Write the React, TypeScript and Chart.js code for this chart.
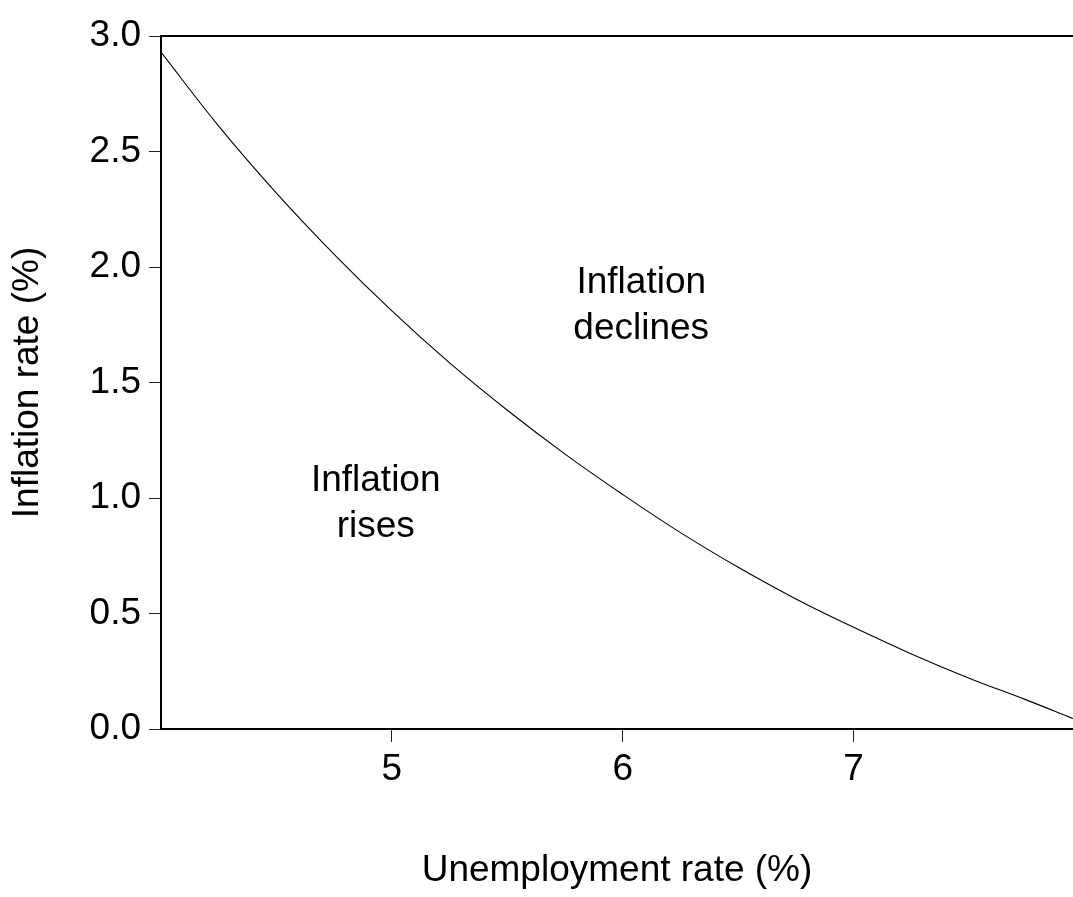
import React, { useEffect, useRef } from "react";
import { Chart, registerables } from "chart.js";

Chart.register(...registerables);

// Curve values (unemployment %, inflation %)
const unemployment = [4.0, 4.25, 4.5, 4.75, 5.0, 5.25, 5.5, 5.75, 6.0, 6.25, 6.5, 6.75, 7.0, 7.25, 7.5, 7.75, 7.95];
const inflation = [2.93, 2.61, 2.32, 2.055, 1.81, 1.585, 1.38, 1.19, 1.015, 0.85, 0.7, 0.563, 0.44, 0.325, 0.22, 0.125, 0.045];

const xTickValues = [5, 6, 7];
const yTickValues = [0, 0.5, 1.0, 1.5, 2.0, 2.5, 3.0];

const xTitle = "Unemployment rate (%)";
const yTitle = "Inflation rate (%)";

// Region annotations (text lines, anchor in data units: centre x, baseline of first line)
const regionLines = [
  ["Inflation", "declines"],
  ["Inflation", "rises"],
];
const regionX = [6.08, 4.93];
const regionY = [1.887, 1.03];

const FONT = '"Liberation Sans", Arial, Helvetica, sans-serif';
const W = 1073;
const H = 897;

const overlayPlugin = {
  id: "overlay",
  afterDraw(chart: any) {
    const { ctx, chartArea, scales } = chart;
    ctx.save();
    ctx.strokeStyle = "#000";
    ctx.lineWidth = 2;
    ctx.beginPath();
    ctx.moveTo(chartArea.left - 1, chartArea.top);
    ctx.lineTo(chartArea.right, chartArea.top);
    ctx.stroke();

    ctx.font = `37px ${FONT}`;
    ctx.fillStyle = "#000";
    ctx.textAlign = "center";
    ctx.textBaseline = "alphabetic";
    regionLines.forEach((lines, i) => {
      const px = scales.x.getPixelForValue(regionX[i]);
      const py = scales.y.getPixelForValue(regionY[i]);
      lines.forEach((t, j) => ctx.fillText(t, px, py + j * 46));
    });
    ctx.restore();
  },
};

export default function App() {
  const ref = useRef<HTMLCanvasElement | null>(null);

  useEffect(() => {
    if (!ref.current) return;
    const chart = new Chart(ref.current, {
      type: "line",
      data: {
        datasets: [
          {
            data: unemployment.map((u, i) => ({ x: u, y: inflation[i] })),
            borderColor: "#000",
            borderWidth: 1.1,
            pointRadius: 0,
            fill: false,
            tension: 0.4,
          },
        ],
      },
      options: {
        animation: false,
        responsive: false,
        maintainAspectRatio: false,
        layout: { padding: { top: 36, right: 0, left: 0, bottom: 0 } },
        plugins: {
          legend: { display: false },
          tooltip: { enabled: false },
        },
        scales: {
          x: {
            type: "linear",
            min: 4.0,
            max: 7.95,
            afterBuildTicks: (scale: any) => {
              scale.ticks = xTickValues.map((v) => ({ value: v }));
            },
            afterFit: (scale: any) => {
              scale.height = 168;
            },
            ticks: {
              color: "#000",
              font: { family: FONT, size: 37 },
              padding: 6,
              maxRotation: 0,
              callback: (v: any) => String(v),
            },
            grid: {
              display: true,
              drawOnChartArea: false,
              drawTicks: true,
              tickLength: 13,
              color: "#222",
              lineWidth: 1,
            },
            border: { display: true, color: "#000", width: 2 },
            title: {
              display: true,
              text: xTitle,
              color: "#000",
              font: { family: FONT, size: 37, lineHeight: 1.2 },
              padding: { top: 0, bottom: 4 },
            },
          },
          y: {
            type: "linear",
            min: 0,
            max: 3,
            afterBuildTicks: (scale: any) => {
              scale.ticks = yTickValues.map((v) => ({ value: v }));
            },
            afterFit: (scale: any) => {
              scale.width = 161;
            },
            ticks: {
              color: "#000",
              font: { family: FONT, size: 37 },
              padding: 8,
              callback: (v: any) => Number(v).toFixed(1),
            },
            grid: {
              display: true,
              drawOnChartArea: false,
              drawTicks: true,
              tickLength: 12,
              color: "#222",
              lineWidth: 1,
            },
            border: { display: true, color: "#000", width: 2 },
            title: {
              display: true,
              text: yTitle,
              color: "#000",
              font: { family: FONT, size: 37, lineHeight: 1.2 },
              padding: { top: 6, bottom: 0 },
            },
          },
        },
      },
      plugins: [overlayPlugin],
    });
    return () => chart.destroy();
  }, []);

  return (
    <div style={{ position: "absolute", left: 0, top: 0, width: W, height: H, background: "#fff" }}>
      <canvas ref={ref} width={W} height={H} style={{ display: "block" }} />
    </div>
  );
}
